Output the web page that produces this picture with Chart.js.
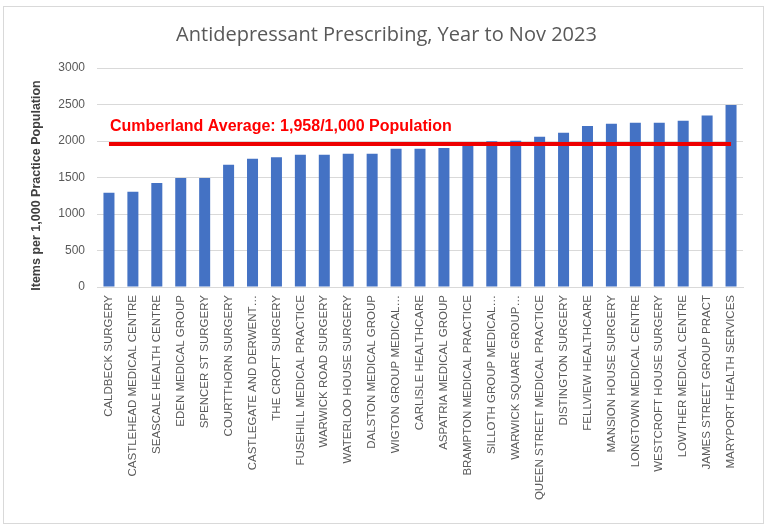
<!DOCTYPE html>
<html>
<head>
<meta charset="utf-8">
<script src="https://cdn.jsdelivr.net/npm/chart.js@4.4.0/dist/chart.umd.min.js"></script>
<style>
  html, body { margin: 0; padding: 0; background: #fff; }
  #wrap { position: relative; width: 768px; height: 528px; }
  #frame { position: absolute; left: 3px; top: 6px; width: 759px; height: 516px; border: 1px solid #d9d9d9; pointer-events: none; }
</style>
</head>
<body>
<div id="wrap">
  <canvas id="chart" width="768" height="528"></canvas>
  <div id="frame"></div>
</div>
<script>
const practices = [
  "CALDBECK SURGERY", "CASTLEHEAD MEDICAL CENTRE", "SEASCALE HEALTH CENTRE", "EDEN MEDICAL GROUP",
  "SPENCER ST SURGERY", "COURTTHORN SURGERY", "CASTLEGATE AND DERWENT…", "THE CROFT SURGERY",
  "FUSEHILL MEDICAL PRACTICE", "WARWICK ROAD SURGERY", "WATERLOO HOUSE SURGERY", "DALSTON MEDICAL GROUP",
  "WIGTON GROUP MEDICAL…", "CARLISLE HEALTHCARE", "ASPATRIA MEDICAL GROUP", "BRAMPTON MEDICAL PRACTICE",
  "SILLOTH GROUP MEDICAL…", "WARWICK SQUARE GROUP…", "QUEEN STREET MEDICAL PRACTICE", "DISTINGTON SURGERY",
  "FELLVIEW HEALTHCARE", "MANSION HOUSE SURGERY", "LONGTOWN MEDICAL CENTRE", "WESTCROFT HOUSE SURGERY",
  "LOWTHER MEDICAL CENTRE", "JAMES STREET GROUP PRACT", "MARYPORT HEALTH SERVICES"
];
const itemsPer1000 = [
  1290, 1305, 1425, 1492, 1492, 1675, 1758, 1776,
  1812, 1812, 1826, 1826, 1895, 1895, 1904, 1945,
  1995, 2004, 2059, 2114, 2205, 2237, 2251, 2251,
  2278, 2351, 2493
];
const cumberlandAverage = 1958;
const averageLabel = "Cumberland Average: 1,958/1,000 Population";
const yAxisTitle = "Items per 1,000 Practice Population";

// red average caption + y axis title (Excel puts it a bit below centre)
const extraText = {
  id: "extraText",
  afterDatasetsDraw(chart) {
    const { ctx, scales, chartArea } = chart;
    const y = scales.y.getPixelForValue(cumberlandAverage);
    ctx.save();
    ctx.font = "bold 16px 'Liberation Sans', Arial, sans-serif";
    ctx.fillStyle = "#ff0000";
    ctx.textBaseline = "middle";
    ctx.fillText(averageLabel, scales.x.left + 13, y - 17);

    ctx.translate(37, (chartArea.top + chartArea.bottom) / 2 + 8);
    ctx.rotate(-Math.PI / 2);
    ctx.font = "bold 12.5px 'Liberation Sans', Arial, sans-serif";
    ctx.fillStyle = "#404040";
    ctx.textAlign = "center";
    ctx.fillText(yAxisTitle, 0, 0);
    ctx.restore();
  }
};

new Chart(document.getElementById("chart"), {
  type: "bar",
  data: {
    labels: practices,
    datasets: [
      {
        type: "line",
        data: practices.map(() => cumberlandAverage),
        borderColor: "#ee0000",
        borderWidth: 4,
        pointRadius: 0,
        order: 0
      },
      {
        data: itemsPer1000,
        backgroundColor: "#4472c4",
        barPercentage: 0.46,
        categoryPercentage: 1,
        order: 1
      }
    ]
  },
  options: {
    responsive: false,
    animation: false,
    layout: { padding: { left: 30, right: 25, top: 0, bottom: 8 } },
    plugins: {
      legend: { display: false },
      tooltip: { enabled: false },
      title: {
        display: true,
        text: "Antidepressant Prescribing, Year to Nov 2023",
        color: "#595959",
        font: { family: "'Open Sans', sans-serif", size: 20, weight: "normal" },
        padding: { top: 23, bottom: 21 }
      }
    },
    scales: {
      x: {
        grid: { display: false },
        border: { color: "#d9d9d9" },
        ticks: {
          autoSkip: false,
          minRotation: 90,
          maxRotation: 90,
          padding: 0,
          color: "#595959",
          font: { family: "'Liberation Sans', Arial, sans-serif", size: 11.5 }
        },
        afterFit(axis) { axis.height = 233; }
      },
      y: {
        min: 0,
        max: 3000,
        ticks: {
          stepSize: 500,
          padding: 12,
          color: "#595959",
          font: { family: "'Liberation Sans', Arial, sans-serif", size: 12 },
          callback: v => String(v)
        },
        grid: { color: "#d9d9d9", drawTicks: false },
        border: { display: false },
        afterFit(axis) { axis.width = 67; }
      }
    }
  },
  plugins: [extraText]
});
</script>
</body>
</html>
